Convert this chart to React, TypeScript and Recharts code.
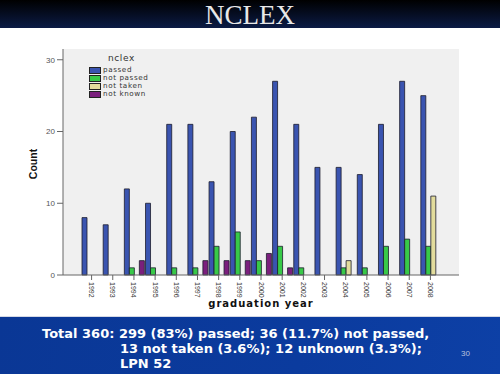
import React from 'react';
import { BarChart, Bar, XAxis, YAxis, CartesianGrid, Legend } from 'recharts';

const years = ['1992', '1993', '1994', '1995', '1996', '1997', '1998', '1999', '2000', '2001', '2002', '2003', '2004', '2005', '2006', '2007', '2008'];
const passed = [8, 7, 12, 10, 21, 21, 13, 20, 22, 27, 21, 15, 15, 14, 21, 27, 25];
const notPassed = [0, 0, 1, 1, 1, 1, 4, 6, 2, 4, 1, 0, 1, 1, 4, 5, 4];
const notTaken = [0, 0, 0, 0, 0, 0, 0, 0, 0, 0, 0, 0, 2, 0, 0, 0, 11];
const notKnown = [0, 0, 2, 0, 0, 2, 2, 2, 3, 1, 0, 0, 0, 0, 0, 0, 0];
const yTicks = [0, 10, 20, 30];

const series = [
    { key: 'passed', name: 'passed', color: '#3a54b0' },
    { key: 'notPassed', name: 'not passed', color: '#38c948' },
    { key: 'notTaken', name: 'not taken', color: '#e2dc9c' },
    { key: 'notKnown', name: 'not known', color: '#7b1f7d' },
];

const data = years.map((year, i) => ({
    year,
    passed: passed[i],
    notPassed: notPassed[i],
    notTaken: notTaken[i],
    notKnown: notKnown[i],
}));

const YearTick = (props: any) => {
    const { x, y, payload } = props;
    return (
        <g transform={`translate(${x},${y})`}>
            <text transform="rotate(90)" x={0} y={0} dy="0.35em" fontSize={7} fill="#333" fontFamily="Liberation Sans, Arial, sans-serif">
                {payload.value}
            </text>
        </g>
    );
};

const NclexLegend = () => (
    <div style={{ fontFamily: 'DejaVu Sans, sans-serif', color: '#333' }}>
        <div style={{ fontSize: 9, lineHeight: '11px', paddingLeft: 19, marginBottom: 2, letterSpacing: 0.6 }}>nclex</div>
        {series.map((s) => (
            <div key={s.key} style={{ display: 'flex', alignItems: 'center', height: 8, lineHeight: '8px', fontSize: 7.2, letterSpacing: 0.6 }}>
                <span style={{ display: 'inline-block', width: 10, height: 5, background: s.color, border: '1px solid #222', marginRight: 2 }} />
                <span>{s.name}</span>
            </div>
        ))}
    </div>
);

const CountLabel = (props: any) => {
    const { viewBox } = props;
    const cx = viewBox.x + 33;
    const cy = viewBox.y + viewBox.height / 2 + 2;
    return (
        <text x={cx} y={cy} transform={`rotate(-90, ${cx}, ${cy})`} textAnchor="middle" dy="0.35em" fontSize={10.5} fontWeight="bold" fill="#111" fontFamily="Liberation Sans, Arial, sans-serif">
            Count
        </text>
    );
};

const App = () => {
    return (
        <div style={{ position: 'absolute', top: 0, left: 0, width: 500, height: 374, background: '#ffffff', overflow: 'hidden' }}>
            <div style={{ position: 'absolute', top: 0, left: 0, width: 500, height: 28, background: 'linear-gradient(#000000, #0b1b45)' }} />
            <div style={{ position: 'absolute', top: 0, left: 0, width: 500, height: 28, textAlign: 'center', fontFamily: 'Liberation Serif, serif', fontSize: 27, lineHeight: '30px', color: '#e8e8e8' }}>
                NCLEX
            </div>

            <div style={{ position: 'absolute', top: 0, left: 0 }}>
                <BarChart width={500} height={320} data={data} margin={{ top: 49, right: 41, left: 0, bottom: 13 }} barGap={0} barSize={5}>
                    <CartesianGrid fill="#f0f0f0" horizontal={false} vertical={false} />
                    <XAxis
                        dataKey="year"
                        height={32}
                        padding={{ left: 18, right: 18 }}
                        interval={0}
                        tick={<YearTick />}
                        tickSize={5}
                        tickMargin={2}
                        stroke="#666"
                        label={{ value: 'graduation year', position: 'insideBottom', offset: 0, fontSize: 10, fontWeight: 'bold', fill: '#111', fontFamily: 'DejaVu Sans, sans-serif', letterSpacing: 1 }}
                    />
                    <XAxis xAxisId="top" dataKey="year" orientation="top" height={0} tick={false} tickLine={false} stroke="#808080" />
                    <YAxis
                        width={63}
                        domain={[0, 31.5]}
                        ticks={yTicks}
                        tickSize={6}
                        tickMargin={2}
                        stroke="#666"
                        tick={{ fontSize: 8, fill: '#555', fontFamily: 'Liberation Sans, Arial, sans-serif' }}
                        label={<CountLabel />}
                    />
                    <YAxis yAxisId="right" orientation="right" width={0} tick={false} tickLine={false} stroke="#808080" />
                    <Legend
                        layout="vertical"
                        align="center"
                        verticalAlign="middle"
                        content={<NclexLegend />}
                        wrapperStyle={{ top: 53, left: 89, width: 80 }}
                    />
                    {series.map((s) => (
                        <Bar key={s.key} dataKey={s.key} name={s.name} fill={s.color} stroke="#1c1c2c" strokeWidth={0.8} isAnimationActive={false} />
                    ))}
                </BarChart>
            </div>

            <div style={{ position: 'absolute', top: 316, left: 0, width: 500, height: 1, background: '#d5d9e6' }} />
            <div style={{ position: 'absolute', top: 317, left: 0, width: 500, height: 57, background: 'linear-gradient(100deg, #0a3795 0%, #0b3b9e 60%, #0d40a6 100%)' }} />
            <div style={{ position: 'absolute', top: 326, left: 42, fontFamily: 'DejaVu Sans, sans-serif', fontWeight: 'bold', fontSize: 13, lineHeight: '15px', color: '#ffffff', whiteSpace: 'pre' }}>
                <div>Total 360: 299 (83%) passed; 36 (11.7%) not passed,</div>
                <div style={{ paddingLeft: 78 }}>13 not taken (3.6%); 12 unknown (3.3%);</div>
                <div style={{ paddingLeft: 78 }}>LPN 52</div>
            </div>
            <div style={{ position: 'absolute', top: 349, left: 461, fontFamily: 'Liberation Sans, Arial, sans-serif', fontSize: 8, color: '#b8c2dc' }}>30</div>
        </div>
    );
};

export default App;
